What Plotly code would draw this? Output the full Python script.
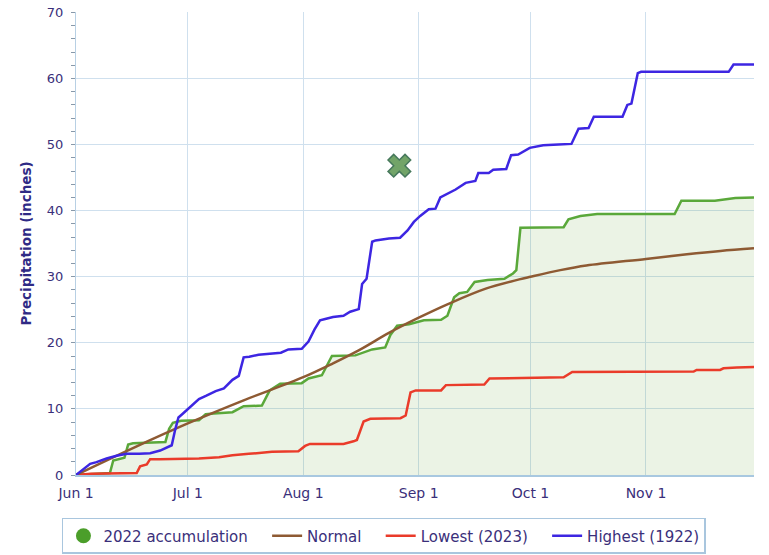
import pandas as pd
import plotly.graph_objects as go

START = "2022-06-01"

# 2022 accumulation (days after Jun 1, inches)
acc_days = [0, 4, 9.1, 10, 13, 14, 15.3, 24, 25, 26, 28.2, 33, 34.8, 37, 42, 45, 49.9, 52, 54.8,
            60.6, 62.4, 66, 68.7, 75, 77.2, 79.5, 83, 84.4, 86.2, 89.4, 93.4, 98, 99.7, 101.5,
            102.9, 105, 107, 110.5, 115, 117.3, 118.2, 119.3, 130.9, 132.2, 135.4, 139.9, 160.7,
            162.5, 171.5, 177, 182]
acc_vals = [0, 0.1, 0.3, 2.2, 2.6, 4.6, 4.8, 5.0, 7.0, 7.9, 8.2, 8.3, 9.2, 9.3, 9.5, 10.4, 10.5,
            12.8, 13.8, 13.9, 14.6, 15.1, 18.0, 18.1, 18.5, 19.0, 19.3, 21.2, 22.6, 22.8, 23.4,
            23.5, 24.1, 26.9, 27.5, 27.7, 29.2, 29.5, 29.7, 30.5, 31.0, 37.4, 37.5, 38.7, 39.2,
            39.5, 39.5, 41.5, 41.5, 41.9, 42.0]

# Normal
normal_days = [0, 15, 30, 45, 61, 69, 76, 84, 92, 100, 110, 119, 122, 130, 137, 153, 164, 173, 182]
normal_vals = [0, 4.0, 7.8, 11.3, 14.8, 16.9, 18.9, 21.5, 23.8, 25.9, 28.2, 29.6, 30.0, 31.0,
               31.7, 32.7, 33.4, 33.9, 34.3]

# Lowest (2023)
low_days = [0, 4, 16.3, 17.2, 19, 19.9, 22.4, 33, 38.4, 42, 46.4, 49, 52.6, 59.7, 61.5, 62.8,
            71.8, 74.5, 75.4, 77.2, 79, 87.1, 88.5, 89.8, 91.2, 98, 99.3, 109.6, 111, 130.9,
            133.2, 165.8, 166.6, 172.9, 173.8, 177.4, 182]
low_vals = [0, 0.2, 0.3, 1.3, 1.6, 2.4, 2.4, 2.5, 2.7, 3.0, 3.2, 3.3, 3.5, 3.6, 4.4, 4.7, 4.7,
            5.1, 5.3, 8.1, 8.5, 8.6, 9.0, 12.5, 12.8, 12.8, 13.6, 13.7, 14.6, 14.8, 15.6, 15.65,
            15.9, 15.9, 16.15, 16.25, 16.35]

# Highest (1922)
high_days = [0, 2.4, 3.8, 5.5, 8.2, 10.9, 13.6, 17, 19.9, 22.6, 24.4, 25.7, 26.6, 27.5, 28.5, 31,
             33, 35, 37.5, 39.7, 42, 43.7, 45, 46.5, 49, 55, 57, 60.6, 62.4, 64, 65.5, 66.9, 69,
             71.8, 73.6, 75.9, 76.8, 78, 79.5, 80.4, 84, 87, 89, 90.7, 92.4, 94.7, 96.5, 97.8,
             99.6, 101.9, 104.6, 107.2, 108, 110.8, 112, 115.5, 116.8, 118.7, 121.8, 125.4,
             129.5, 133, 134.9, 137.6, 139, 146.7, 148, 149.1, 150.8, 151.7, 175.2, 176.5, 182]
high_vals = [0, 1.05, 1.7, 1.95, 2.5, 2.9, 3.2, 3.2, 3.3, 3.7, 4.1, 4.5, 6.8, 8.7, 9.2, 10.4,
             11.5, 12.0, 12.7, 13.1, 14.4, 15.0, 17.8, 17.9, 18.2, 18.5, 19.0, 19.1, 20.2, 22.0,
             23.4, 23.6, 23.9, 24.1, 24.7, 25.1, 28.9, 29.7, 35.3, 35.5, 35.8, 35.9, 37.0, 38.3,
             39.2, 40.2, 40.3, 42.0, 42.5, 43.2, 44.2, 44.5, 45.7, 45.7, 46.2, 46.3, 48.4, 48.5,
             49.5, 49.9, 50.0, 50.1, 52.4, 52.5, 54.2, 54.2, 56.0, 56.2, 60.8, 61.0, 61.0, 62.1,
             62.1]

# Single highlighted point
mark_days = [86.8]
mark_vals = [46.8]

y_ticks = [0, 10, 20, 30, 40, 50, 60, 70]


def to_dates(days):
    return pd.Timestamp(START) + pd.to_timedelta(days, unit="D")


GREEN = "#5aa83a"
BROWN = "#8e5a33"
RED = "#ea3b2a"
BLUE = "#3d26e2"
TXT = "#3a2f7a"
GRID = "#cfe0ee"
PAD = "\u00a0" * 3

fig = go.Figure()

fig.add_trace(go.Scatter(x=to_dates(acc_days), y=acc_vals, mode="lines",
                         line=dict(color=GREEN, width=2.5), fill="tozeroy",
                         fillcolor="rgba(110,170,70,0.14)", showlegend=False,
                         hoverinfo="skip"))
fig.add_trace(go.Scatter(x=to_dates(low_days), y=low_vals, mode="lines",
                         line=dict(color=RED, width=2.5), name="Lowest (2023)" + PAD,
                         legendrank=3))
fig.add_trace(go.Scatter(x=to_dates(normal_days), y=normal_vals, mode="lines",
                         line=dict(color=BROWN, width=2.5, shape="spline"), name="Normal" + PAD,
                         legendrank=2))
fig.add_trace(go.Scatter(x=to_dates(high_days), y=high_vals, mode="lines",
                         line=dict(color=BLUE, width=2.5), name="Highest (1922)",
                         legendrank=4))
fig.add_trace(go.Scatter(x=to_dates(mark_days), y=mark_vals, mode="markers",
                         marker=dict(symbol="x", size=20, color="#72a468",
                                     line=dict(color="#46785c", width=1.5)),
                         showlegend=False))
fig.add_trace(go.Scatter(x=[None], y=[None], mode="markers",
                         marker=dict(color="#4b9e2a", size=15),
                         name="2022 accumulation" + PAD, legendrank=1))

fig.update_layout(
    width=769, height=555,
    margin=dict(l=76, r=15, t=12, b=80, autoexpand=False),
    paper_bgcolor="white", plot_bgcolor="white",
    font=dict(family="DejaVu Sans", size=13, color=TXT),
    legend=dict(orientation="h", xref="container", yref="container",
                x=0.4993, xanchor="center", y=0.0667, yanchor="top",
                bordercolor="#a9c6de", borderwidth=1.5, bgcolor="white",
                font=dict(size=15, color=TXT), itemwidth=30,
                traceorder="normal"),
)
fig.update_xaxes(
    range=[pd.Timestamp(START), to_dates([182])[0]],
    tick0=START, dtick="M1", tickformat="%b %-d",
    showgrid=True, gridcolor=GRID, gridwidth=1,
    showline=True, linecolor="#a8c8e0", linewidth=2,
    ticks="outside", ticklen=4, tickcolor="rgba(0,0,0,0)",
    zeroline=False, tickfont=dict(size=14, color=TXT), automargin=False,
)
fig.update_yaxes(
    range=[0, 70.06], tickvals=y_ticks,
    showgrid=True, gridcolor=GRID, gridwidth=1,
    showline=True, linecolor="#b8d0e4", linewidth=1,
    zeroline=False, ticks="outside", ticklen=9, tickcolor="rgba(0,0,0,0)",
    ticklabeloverflow="allow",
    minor=dict(dtick=2, ticks="outside", ticklen=4, tickcolor="#8899aa", showgrid=False),
    title=dict(text="<b>Precipitation (inches)</b>", font=dict(size=13.5, color="#2f2a85"),
               standoff=12),
    tickfont=dict(size=13, color=TXT), automargin=False,
)

fig.write_html("out.html", config={"displayModeBar": False},
               post_script="document.body.style.margin='0';")
